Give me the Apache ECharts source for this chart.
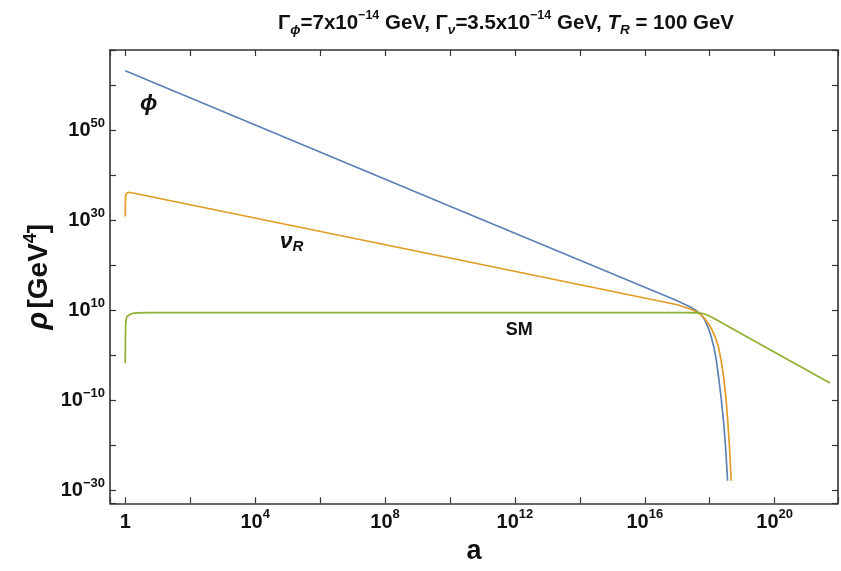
<!DOCTYPE html>
<html>
<head>
<meta charset="utf-8">
<script src="https://cdn.jsdelivr.net/npm/echarts@6/dist/echarts.min.js"></script>
<style>
html, body { margin: 0; padding: 0; background: #fff; }
#chart { width: 841px; height: 571px; }
</style>
</head>
<body>
<div id="chart"></div>
<script>
// values are log10(a) and log10(rho / GeV^4)
var phiLogA   = [0, 10, 17.0, 17.4, 17.6, 17.71, 17.85, 17.97, 18.05, 18.12, 18.2, 18.27, 18.35, 18.43, 18.49, 18.55];
var phiLogRho = [63.3, 33.2, 12.2, 10.8, 9.9, 9.3, 7.9, 5.9, 4.1, 2.1, -0.9, -4.6, -9.3, -15.0, -20.5, -27.8];

var nuLogA   = [0, 0.003, 0.01, 0.03, 0.07, 0.12, 10, 17.0, 17.4, 17.66, 17.85, 17.97, 18.06, 18.17, 18.27, 18.35, 18.43, 18.5, 18.56, 18.61, 18.66];
var nuLogRho = [30.9, 33.5, 35.3, 36.0, 36.3, 36.3, 21.7, 11.3, 10.35, 9.5, 8.2, 7.0, 5.9, 4.1, 1.9, -1.0, -4.8, -9.5, -15.0, -20.5, -27.8];

var smLogA   = [0, 0.005, 0.012, 0.025, 0.05, 0.1, 0.2, 0.35, 0.7, 10, 17.3, 17.6, 17.76, 17.9, 18.05, 18.25, 18.48, 19.5, 21.7];
var smLogRho = [-1.7, 4.0, 6.5, 7.9, 8.7, 9.1, 9.35, 9.5, 9.55, 9.55, 9.55, 9.5, 9.42, 9.1, 8.6, 7.8, 6.84, 2.76, -6.1];

// curve labels: text, log10(a), log10(rho)
var labelText = ['{gi|\u03d5}', '{gi|\u03bd}{gsub|R}', '{sm|SM}'];
var labelLogA = [0.72, 5.12, 12.13];
var labelLogRho = [55.9, 25.3, 5.6];

var xRange = [-0.47, 21.95];
var yRange = [-32.8, 67.9];

var FONT = '"Liberation Sans", Arial, sans-serif';
var INK = '#111';

function pairs(xs, ys) {
  return xs.map(function (x, i) { return [x, ys[i]]; });
}
function pow10(v) {
  if (v === 0) return '{b|1}';
  var e = String(v).replace('-', '\u2212');
  return '{b|10}{s|' + e + '}';
}

var tickRich = {
  b: { fontFamily: FONT, fontWeight: 'bold', fontSize: 20, lineHeight: 28, color: INK },
  s: { fontFamily: FONT, fontWeight: 'bold', fontSize: 13, lineHeight: 13, verticalAlign: 'top', color: INK }
};

var frameLine = { show: true, onZero: false, lineStyle: { color: '#333', width: 1.6 } };
var frameTick = { show: true, inside: true, length: 6, interval: 0, lineStyle: { color: '#333', width: 1.2 } };

var chart = echarts.init(document.getElementById('chart'));
var option = {
  backgroundColor: '#fff',
  animation: false,
  title: {
    left: 273,
    top: 4,
    text: '{b|\u0393}{sub|\u03d5}{b|=7x10}{sup|\u221214}{b| GeV, \u0393}{sub|\u03bd}{b|=3.5x10}{sup|\u221214}{b| GeV, }{bi|T}{sub|R}{b| = 100 GeV}',
    textStyle: {
      rich: {
        b: { fontFamily: FONT, fontWeight: 'bold', fontSize: 20.5, lineHeight: 28, color: INK },
        bi: { fontFamily: FONT, fontWeight: 'bold', fontStyle: 'italic', fontSize: 20.5, lineHeight: 28, color: INK },
        sup: { fontFamily: FONT, fontWeight: 'bold', fontSize: 12.5, lineHeight: 13, verticalAlign: 'top', color: INK },
        sub: { fontFamily: FONT, fontWeight: 'bold', fontStyle: 'italic', fontSize: 13.5, lineHeight: 16, verticalAlign: 'bottom', color: INK }
      }
    }
  },
  grid: { left: 110, right: 1.5, top: 50, bottom: 67.7 },
  xAxis: [{
    type: 'value',
    min: xRange[0], max: xRange[1],
    minInterval: 2, maxInterval: 2,
    name: 'a',
    nameLocation: 'middle',
    nameGap: 35,
    nameMoveOverlap: false,
    nameTextStyle: { fontFamily: FONT, fontWeight: 'bold', fontSize: 27, color: INK },
    axisLine: frameLine,
    axisTick: frameTick,
    splitLine: { show: false },
    axisLabel: {
      interval: 0, margin: 5, showMinLabel: true, showMaxLabel: true,
      formatter: function (v) {
        return (Number.isInteger(v) && v % 4 === 0) ? pow10(v) : '';
      },
      rich: tickRich
    }
  }, {
    type: 'value', position: 'top',
    min: xRange[0], max: xRange[1],
    minInterval: 2, maxInterval: 2,
    axisLine: frameLine, axisTick: frameTick,
    axisLabel: { show: false }, splitLine: { show: false }
  }],
  yAxis: [{
    type: 'value',
    min: yRange[0], max: yRange[1],
    minInterval: 10, maxInterval: 10,
    name: '{i|\u03c1} {b|[GeV}{s|4}{b|]}',
    nameLocation: 'middle',
    nameGap: 54,
    nameMoveOverlap: false,
    nameTextStyle: {
      rich: {
        i: { fontFamily: FONT, fontWeight: 'bold', fontStyle: 'italic', fontSize: 29, lineHeight: 34, color: INK },
        b: { fontFamily: FONT, fontWeight: 'bold', fontSize: 28, lineHeight: 34, color: INK },
        s: { fontFamily: FONT, fontWeight: 'bold', fontSize: 18, lineHeight: 18, verticalAlign: 'top', color: INK }
      }
    },
    axisLine: frameLine,
    axisTick: frameTick,
    splitLine: { show: false },
    axisLabel: {
      interval: 0, margin: 5,
      formatter: function (v) {
        return (Number.isInteger(v) && (v - 10) % 20 === 0) ? pow10(v) : '';
      },
      rich: tickRich
    }
  }, {
    type: 'value', position: 'right',
    min: yRange[0], max: yRange[1],
    minInterval: 10, maxInterval: 10,
    axisLine: frameLine, axisTick: frameTick,
    axisLabel: { show: false }, splitLine: { show: false }
  }],
  series: [
    {
      name: 'phi', type: 'line', showSymbol: false,
      data: pairs(phiLogA, phiLogRho),
      lineStyle: { color: '#5E81B5', width: 1.7 }
    },
    {
      name: 'nuR', type: 'line', showSymbol: false,
      data: pairs(nuLogA, nuLogRho),
      lineStyle: { color: '#E19C24', width: 1.7 }
    },
    {
      name: 'SM', type: 'line', showSymbol: false,
      data: pairs(smLogA, smLogRho),
      lineStyle: { color: '#8FB032', width: 1.7 }
    },
    {
      name: 'labels', type: 'scatter', symbolSize: 0, silent: true,
      itemStyle: { color: INK, opacity: 1 },
      data: labelText.map(function (t, i) {
        return { value: [labelLogA[i], labelLogRho[i]], label: { formatter: t } };
      }),
      label: {
        show: true, position: 'inside',
        color: INK, opacity: 1, textBorderWidth: 0,
        rich: {
          gi: { fontFamily: FONT, fontWeight: 'bold', fontStyle: 'italic', fontSize: 23, lineHeight: 26, color: INK },
          gsub: { fontFamily: FONT, fontWeight: 'bold', fontStyle: 'italic', fontSize: 15, lineHeight: 16, verticalAlign: 'bottom', color: INK },
          sm: { fontFamily: FONT, fontWeight: 'bold', fontSize: 18, lineHeight: 22, color: INK }
        }
      }
    }
  ]
};
chart.setOption(option);
</script>
</body>
</html>
